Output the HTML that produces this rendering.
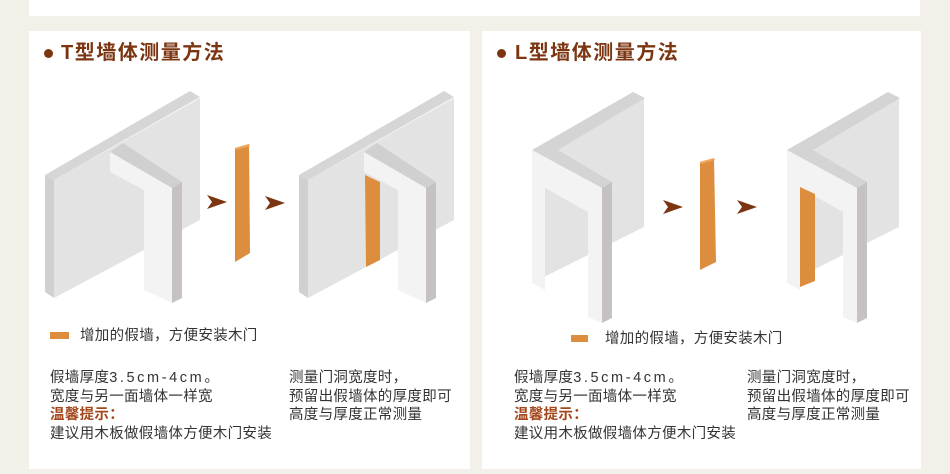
<!DOCTYPE html>
<html><head><meta charset="utf-8"><style>
body{margin:0;width:950px;height:474px;background:#f3efe9;position:relative;overflow:hidden;font-family:"Liberation Sans","Noto Sans CJK SC",sans-serif}
.p{position:absolute;background:#fff}
.t{position:absolute;white-space:nowrap;font-size:14.5px;letter-spacing:0.3px;color:#333;line-height:18.5px}
.h{position:absolute;white-space:nowrap;font-size:20px;font-weight:bold;color:#7b3511;line-height:24px;letter-spacing:1.5px}
.dot{position:absolute;width:9px;height:9px;border-radius:50%;background:#7b3511}
.w{color:#a4471a;font-weight:bold}
.n{letter-spacing:2.6px}
</style></head><body>
<div class="p" style="left:29px;top:0;width:891px;height:16px"></div>
<div class="p" style="left:29px;top:31px;width:441px;height:438px"></div>
<div class="p" style="left:482px;top:31px;width:439px;height:438px"></div>

<div class="dot" style="left:44px;top:49px"></div>
<div class="h" style="left:61px;top:41px">T型墙体测量方法</div>
<div class="dot" style="left:497px;top:49px"></div>
<div class="h" style="left:515px;top:41px">L型墙体测量方法</div>

<svg style="position:absolute;left:0;top:0" width="950" height="474">
<defs>
<g id="T">
<polygon points="45,175 54,180 54,298 45,292" fill="#d0d0d0"/>
<polygon points="54,180 200,98 200,220 54,298" fill="#e3e3e3"/>
<polygon points="45,175 190,91 200,97 54,180" fill="#d6d6d6"/>
<polygon points="110,152 123,143 182,182 172,188" fill="#d0d0d0"/>
<polygon points="110,152 110,172 144,190 144,290 172,303 172,188" fill="#f3f3f3"/>
<polygon points="172,188 182,182 182,298 172,303" fill="#c6c2c2"/>
</g>
<g id="L">
<polygon points="532,150 644,98 644,227 532,283" fill="#e3e3e3"/>
<polygon points="532,150 633,92 645,98 558,150 612,182 602,188" fill="#d4d4d4"/>
<polygon points="532,150 602,188 602,323 588,317 588,212 545,188 545,290 532,283" fill="#f3f3f3"/>
<polygon points="602,188 612,182 612,318 602,323" fill="#c6c2c2"/>
</g>
<polygon id="ar" points="0,0 20,7 0,14 5,7" fill="#7b3511"/>
</defs>
<use href="#T"/>
<use href="#T" x="254"/>
<polygon points="365,175 380,182 380,260 366,267" fill="#dc8d3e"/>
<polygon points="235,148 249,144 250,253 235,262" fill="#dc8d3e"/>
<polygon points="235,148 249,144 250,146 236,150" fill="#f0a85a"/>
<use href="#ar" x="207" y="195"/>
<use href="#ar" x="265" y="196"/>

<use href="#L"/>
<use href="#L" x="255"/>
<polygon points="800,187 815,194 815,281 800,287" fill="#dc8d3e"/>
<polygon points="700,162 714,158 716,262 700,270" fill="#dc8d3e"/>
<polygon points="700,162 714,158 715,160 701,164" fill="#f0a85a"/>
<use href="#ar" x="663" y="200"/>
<use href="#ar" x="737" y="200"/>
<rect x="50" y="332" width="19" height="7" fill="#dc8d3e"/>
<rect x="571" y="335" width="17" height="7" fill="#dc8d3e"/>
</svg>

<div class="t" style="left:80px;top:327px">增加的假墙，方便安装木门</div>
<div class="t" style="left:50px;top:369px">假墙厚度<span class="n">3.5cm-4cm</span>。<br>宽度与另一面墙体一样宽<br><span class="w">温馨提示：</span><br>建议用木板做假墙体方便木门安装</div>
<div class="t" style="left:289px;top:369px">测量门洞宽度时，<br>预留出假墙体的厚度即可<br>高度与厚度正常测量</div>

<div class="t" style="left:605px;top:330px">增加的假墙，方便安装木门</div>
<div class="t" style="left:514px;top:369px">假墙厚度<span class="n">3.5cm-4cm</span>。<br>宽度与另一面墙体一样宽<br><span class="w">温馨提示：</span><br>建议用木板做假墙体方便木门安装</div>
<div class="t" style="left:747px;top:369px">测量门洞宽度时，<br>预留出假墙体的厚度即可<br>高度与厚度正常测量</div>
</body></html>
